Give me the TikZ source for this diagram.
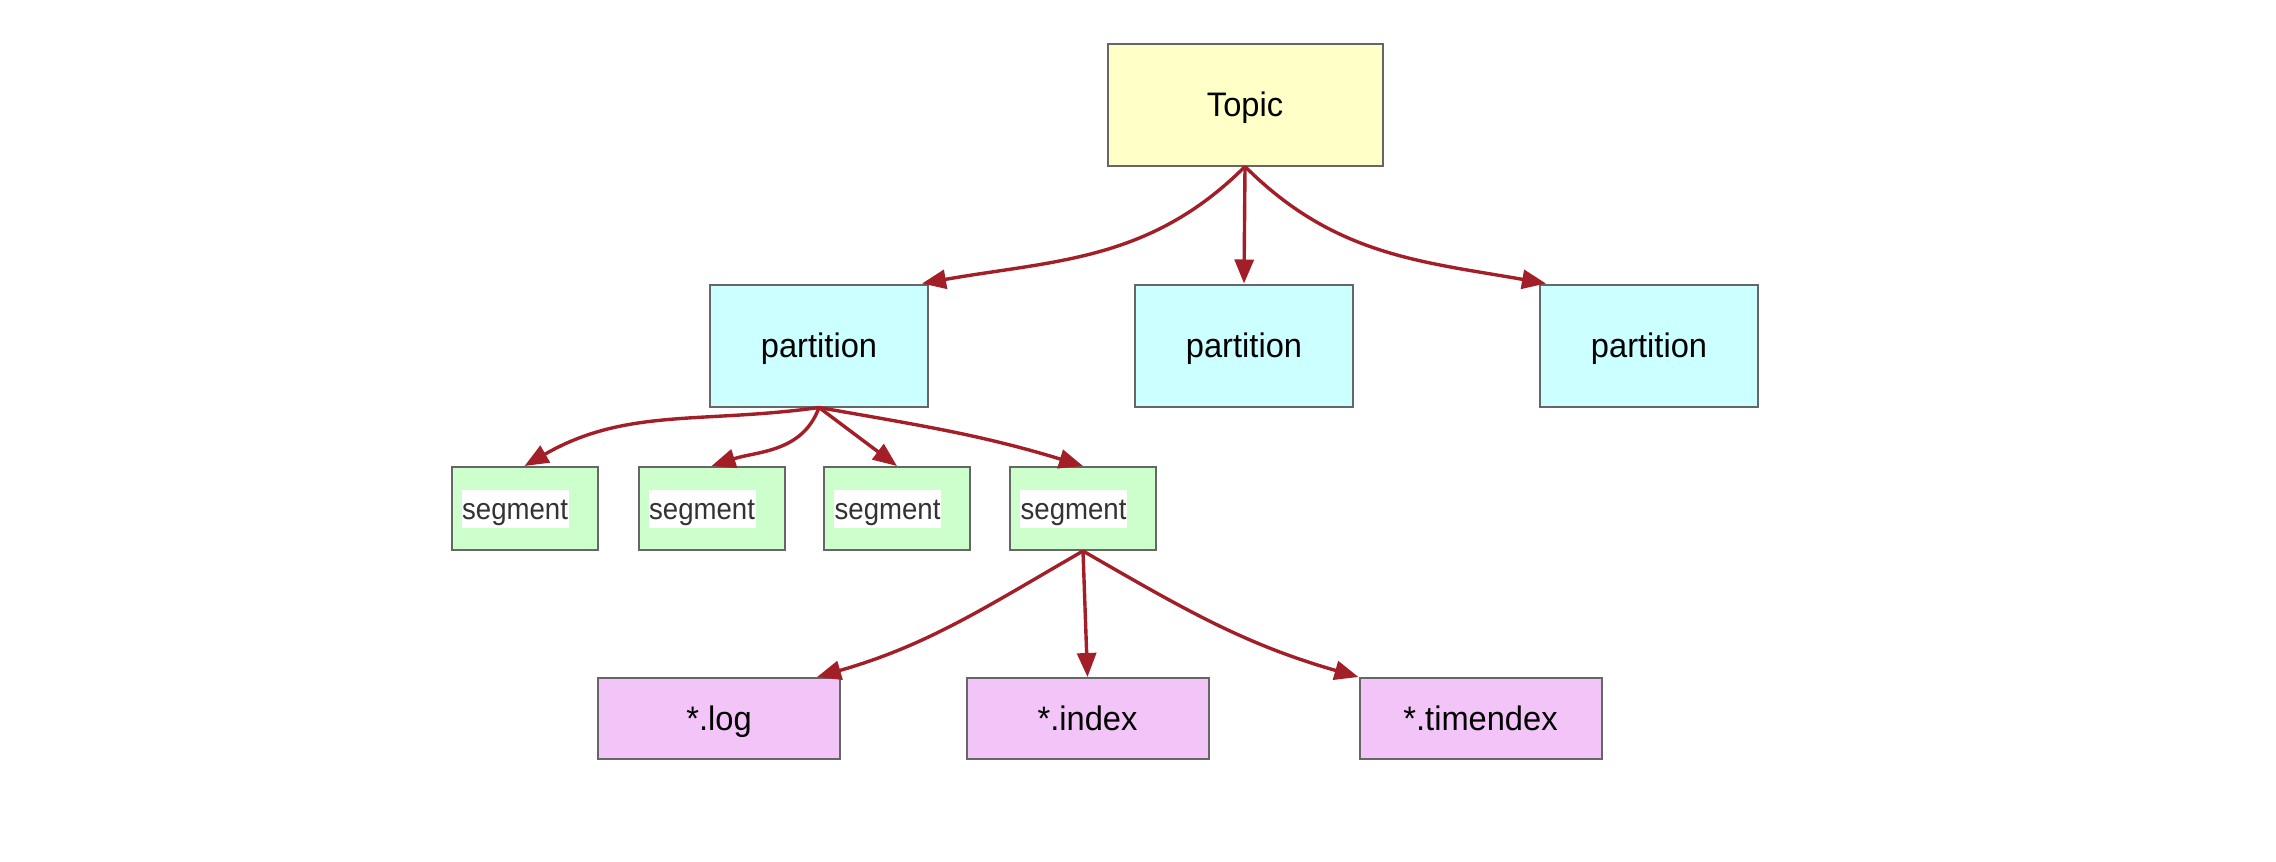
\documentclass[tikz,border=0pt]{standalone}
\usepackage{fontspec}
\usepackage{graphicx}
\setmainfont{Liberation Sans}
\usetikzlibrary{arrows.meta}
\definecolor{topicfill}{HTML}{FFFFC8}
\definecolor{partfill}{HTML}{CCFFFF}
\definecolor{segfill}{HTML}{CCFFCC}
\definecolor{filefill}{HTML}{F2C4F8}
\definecolor{boxline}{HTML}{666666}
\definecolor{arrowred}{HTML}{A21F28}
\definecolor{segtextcol}{HTML}{333333}
\newcommand\narrowtxt[2]{\scalebox{#1}[1]{#2}}
\begin{document}
\begin{tikzpicture}[x=0.5pt,y=-0.5pt,
 box/.style={draw=boxline, line width=1pt, inner sep=0pt, text height=12.2pt, text depth=0pt, font=\fontsize{17}{20}\selectfont},
 topicbox/.style={box, fill=topicfill, minimum width=137.5pt, minimum height=61pt},
 partbox/.style={box, fill=partfill, minimum width=109pt, minimum height=61pt},
 segbox/.style={box, fill=segfill, minimum width=73pt, minimum height=41.5pt},
 filebox/.style={box, fill=filefill, minimum width=121pt, minimum height=40.5pt},
 segtext/.style={fill=white, text=segtextcol, inner xsep=0.3pt, inner ysep=0pt, text height=15.15pt, text depth=3.85pt, anchor=west, font=\fontsize{15}{18}\selectfont},
 conn/.style={draw=arrowred, line width=1.7pt, -{Triangle[length=12pt,width=9.5pt]}}
]
\useasboundingbox (0,0) rectangle (2276,862);

\node[topicbox] (topic) at (1245,104.5) {\narrowtxt{0.96}{Topic}};
\node[partbox] (p1) at (819,345.5) {\narrowtxt{0.96}{partition}};
\node[partbox] (p2) at (1244,345.5) {\narrowtxt{0.96}{partition}};
\node[partbox] (p3) at (1649,345.5) {\narrowtxt{0.96}{partition}};

\node[segbox] (s1) at (524.5,508.5) {};
\node[segbox] (s2) at (711.5,508.5) {};
\node[segbox] (s3) at (897,508.5) {};
\node[segbox] (s4) at (1083,508.5) {};
\node[segtext] (t1) at ([xshift=5.3pt]s1.west) {\narrowtxt{0.92}{segment}};
\node[segtext] (t2) at ([xshift=5.3pt]s2.west) {\narrowtxt{0.92}{segment}};
\node[segtext] (t3) at ([xshift=5.3pt]s3.west) {\narrowtxt{0.92}{segment}};
\node[segtext] (t4) at ([xshift=5.3pt]s4.west) {\narrowtxt{0.92}{segment}};

\node[filebox] (flog) at (719,718.5) {\narrowtxt{0.96}{*.log}};
\node[filebox] (findex) at (1087.5,718.5) {\narrowtxt{0.96}{*.index}};
\node[filebox] (ftime) at (1480.5,718.5) {\narrowtxt{0.96}{*.timendex}};

\draw[conn] (topic.south) to[out=-135,in=10] ([xshift=-3.5pt]p1.north east);
\draw[conn] (topic.south) -- (p2.north);
\draw[conn] (topic.south) to[out=-45,in=170] ([xshift=3.5pt]p3.north west);

\draw[conn] (p1.south) to[out=-172,in=30] (s1.north);
\draw[conn] (p1.south) to[out=-110,in=18] (s2.north);
\draw[conn] (p1.south) -- (s3.north);
\draw[conn] (p1.south) to[out=-10,in=163] (s4.north);

\draw[conn] (s4.south) to[out=-150,in=16] ([xshift=-12pt]flog.north east);
\draw[conn] (s4.south) -- (findex.north);
\draw[conn] (s4.south) to[out=-30,in=164] (ftime.north west);
\end{tikzpicture}
\end{document}
